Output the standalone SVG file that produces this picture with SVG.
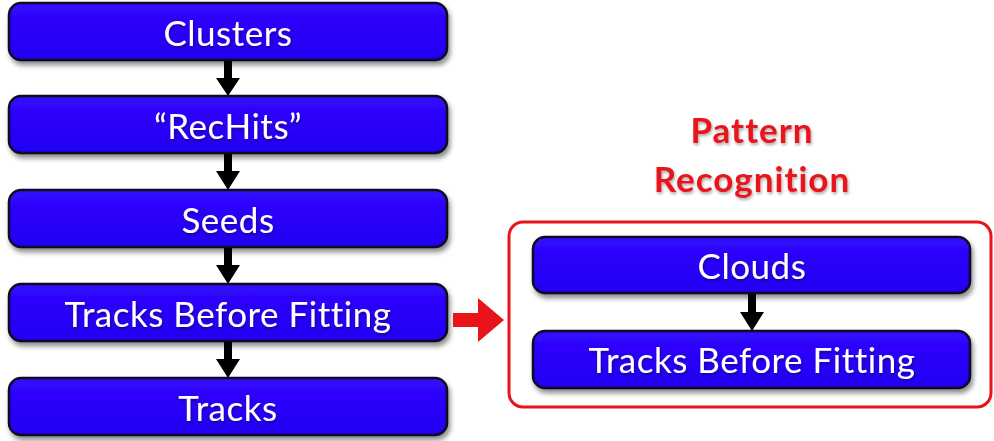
<svg xmlns="http://www.w3.org/2000/svg" width="994" height="441" viewBox="0 0 994 441">
<defs>
<linearGradient id="g" x1="0" y1="0" x2="0" y2="1">
<stop offset="0" stop-color="#3208ff"/>
<stop offset="1" stop-color="#2200f2"/>
</linearGradient>
<filter id="sh" x="-5%" y="-20%" width="115%" height="160%">
<feDropShadow dx="2" dy="4" stdDeviation="2.5" flood-color="#000" flood-opacity="0.45"/>
</filter>
<filter id="tsh" x="-10%" y="-20%" width="120%" height="160%">
<feDropShadow dx="1" dy="2" stdDeviation="1.5" flood-color="#000" flood-opacity="0.35"/>
</filter>
</defs>
<style>
.box{fill:url(#g);stroke:#0a0a20;stroke-width:2.5;filter:url(#sh)}
.lbl{fill:#fff;font-family:Lato,"Open Sans",sans-serif;font-size:35px;letter-spacing:0.5px;font-variant-ligatures:none;text-anchor:middle;filter:url(#tsh)}
.ttl{fill:#e8141a;font-family:Lato,"Open Sans",sans-serif;font-size:35px;letter-spacing:1px;font-variant-ligatures:none;font-weight:bold;text-anchor:middle;filter:url(#tsh)}
.arr{fill:#000}
</style>
<rect width="994" height="441" fill="#fff"/>
<g id="group-pr">
<rect x="509" y="222" width="482" height="185" rx="14" fill="none" stroke="#e8141a" stroke-width="3"/>
<text class="ttl" x="752" y="143">Pattern</text>
<text class="ttl" x="752" y="192">Recognition</text>
</g>
<g id="n-clusters"><rect class="box" x="9" y="3" width="438" height="57" rx="12"/><text class="lbl" x="228" y="46">Clusters</text></g>
<g id="n-rechits"><rect class="box" x="9" y="96" width="438" height="57" rx="12"/><text class="lbl" x="228" y="139">“RecHits”</text></g>
<g id="n-seeds"><rect class="box" x="9" y="190" width="438" height="57" rx="12"/><text class="lbl" x="228" y="233">Seeds</text></g>
<g id="n-tbf"><rect class="box" x="9" y="284" width="438" height="57" rx="12"/><text class="lbl" x="228" y="327">Tracks Before Fitting</text></g>
<g id="n-tracks"><rect class="box" x="9" y="378" width="438" height="57" rx="12"/><text class="lbl" x="228" y="421">Tracks</text></g>
<g id="n-clouds"><rect class="box" x="533" y="237" width="437" height="56" rx="12"/><text class="lbl" x="752" y="279">Clouds</text></g>
<g id="n-tbf2"><rect class="box" x="533" y="331" width="437" height="57" rx="12"/><text class="lbl" x="752" y="373">Tracks Before Fitting</text></g>
<g id="connectors">
<path class="arr" d="M224 61 H232 V78 H240 L228 96 L216 78 H224 Z"/>
<path class="arr" d="M224 154 H232 V171 H240 L228 190 L216 171 H224 Z"/>
<path class="arr" d="M224 248 H232 V265 H240 L228 284 L216 265 H224 Z"/>
<path class="arr" d="M224 342 H232 V359 H240 L228 378 L216 359 H224 Z"/>
<path class="arr" d="M748 294 H756 V312 H764 L752 331 L740 312 H748 Z"/>
<path d="M453 313 H478 V298 L504 320 L478 342 V327 H453 Z" fill="#e8141a"/>
</g>
</svg>
